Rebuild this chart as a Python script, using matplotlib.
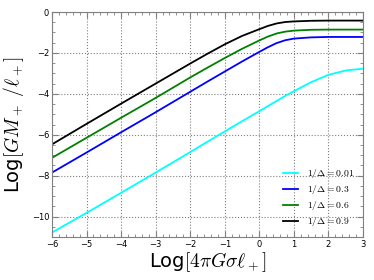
import matplotlib
matplotlib.use("Agg")
import matplotlib.pyplot as plt
from matplotlib.ticker import MultipleLocator

plt.rcParams['mathtext.fontset'] = 'cm'

# values
x_vals = [-6, -5, -4, -3, -2, -1.5, -1, -0.5, 0, 0.25, 0.5, 0.75, 1, 1.5, 2, 2.5, 3]
y_001 = [-10.78, -9.82, -8.84, -7.85, -6.85, -6.34, -5.84, -5.34, -4.85, -4.60, -4.35, -4.10, -3.87, -3.43, -3.07, -2.86, -2.77]
y_03 = [-7.85, -6.87, -5.88, -4.90, -3.90, -3.40, -2.91, -2.42, -1.95, -1.72, -1.52, -1.38, -1.30, -1.24, -1.22, -1.22, -1.22]
y_06 = [-7.13, -6.15, -5.17, -4.20, -3.20, -2.72, -2.25, -1.80, -1.39, -1.20, -1.05, -0.96, -0.91, -0.87, -0.86, -0.86, -0.86]
y_09 = [-6.47, -5.47, -4.48, -3.50, -2.52, -2.04, -1.58, -1.17, -0.84, -0.68, -0.56, -0.49, -0.46, -0.43, -0.42, -0.42, -0.42]

series = [(y_001, 'cyan', r'$1/\Delta=0.01$'),
          (y_03, 'blue', r'$1/\Delta=0.3$'),
          (y_06, 'green', r'$1/\Delta=0.6$'),
          (y_09, 'black', r'$1/\Delta=0.9$')]

fig = plt.figure(figsize=(3.74, 2.8), dpi=100)
ax = fig.add_axes([52/374, 1 - 237/280, 311/374, 225/280])

for ys, col, lab in series:
    ax.plot(x_vals, ys, color=col, lw=1.3, label=lab)

ax.set_xlim(-6, 3)
ax.set_ylim(-11, 0)
ax.xaxis.set_major_locator(MultipleLocator(1))
ax.xaxis.set_minor_locator(MultipleLocator(0.2))
ax.yaxis.set_major_locator(MultipleLocator(2))
ax.yaxis.set_minor_locator(MultipleLocator(0.5))
ax.tick_params(which='both', direction='in', top=True, right=True,
               labelsize=6, color='gray', pad=2)
ax.tick_params(which='major', length=4)
ax.tick_params(which='minor', length=2)
for s in ax.spines.values():
    s.set_color('gray')
ax.grid(True, which='major', ls=':', color='gray', lw=0.8)

ax.set_xlabel(r'Log$[4\pi G\sigma\ell_+]$', fontsize=14, labelpad=1)
ax.set_ylabel(r'Log$[GM_+\ /\ell_+]$', fontsize=14, labelpad=4)

leg = ax.legend(loc='lower right', frameon=False, fontsize=7, handlelength=1.6,
                handletextpad=0.9, labelspacing=0.3, borderaxespad=0.5)

fig.savefig('out.png', dpi=100)
